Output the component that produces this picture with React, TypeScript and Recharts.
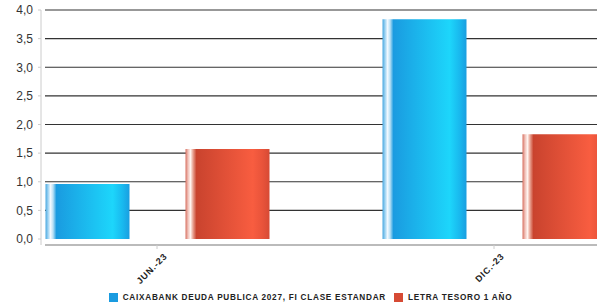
import { BarChart, Bar, XAxis, YAxis, CartesianGrid, Legend } from "recharts";

const periods = ["JUN.-23", "DIC.-23"];
const fundValues = [0.96, 3.84];
const letraValues = [1.57, 1.83];
const seriesNames = ["CAIXABANK DEUDA PUBLICA 2027, FI CLASE ESTANDAR", "LETRA TESORO 1 AÑO"];
const yTicks = [0, 0.5, 1, 1.5, 2, 2.5, 3, 3.5, 4];

const data = periods.map((period, i) => ({
  period,
  fund: fundValues[i],
  letra: letraValues[i],
}));

const font = "'Liberation Sans', Arial, sans-serif";

function XTick({ x, y, payload }: any) {
  return (
    <g transform={`translate(${x + 8},${y + 3})`}>
      <text
        transform="rotate(-45)"
        textAnchor="end"
        dy={4}
        fontSize={9}
        letterSpacing={0.8}
        fontWeight="bold"
        fill="#222"
        fontFamily={font}
      >
        {payload.value}
      </text>
    </g>
  );
}

function GridLine(props: any) {
  const { x1, x2, y1, y2 } = props;
  if (y1 > 236) return <g />;
  return <line x1={x1} x2={x2} y1={y1} y2={y2} stroke="#333" strokeWidth={1.2} />;
}

function LegendContent() {
  const colors = ["#1a9be0", "#d64a34"];
  return (
    <div
      style={{
        display: "flex",
        justifyContent: "center",
        gap: 8,
        fontFamily: font,
        fontSize: 8.2,
        letterSpacing: 0.75,
        fontWeight: "bold",
        color: "#222",
        paddingLeft: 24,
        paddingTop: 8,
      }}
    >
      {seriesNames.map((name, i) => (
        <div key={name} style={{ display: "flex", alignItems: "center", gap: 5 }}>
          <span style={{ width: 9, height: 9, background: colors[i], display: "inline-block" }} />
          <span>{name}</span>
        </div>
      ))}
    </div>
  );
}

export default function App() {
  return (
    <div
      style={{
        position: "absolute",
        left: 0,
        top: 0,
        width: 597,
        height: 305,
        overflow: "hidden",
        background: "#fff",
      }}
    >
      <BarChart
        width={597}
        height={305}
        data={data}
        margin={{ top: 10, right: 0, left: 0, bottom: 0 }}
        barSize={84}
        barGap={56}
      >
        <defs>
          <linearGradient id="gBlue" x1="0" y1="0" x2="1" y2="0">
            <stop offset="0" stopColor="#4aa8e0" />
            <stop offset="0.03" stopColor="#9ad2f2" />
            <stop offset="0.06" stopColor="#f2f9ff" />
            <stop offset="0.09" stopColor="#b8e0f5" />
            <stop offset="0.13" stopColor="#1a9be0" />
            <stop offset="0.8" stopColor="#1dd6fb" />
            <stop offset="0.92" stopColor="#19b8ee" />
            <stop offset="1" stopColor="#1a9ee0" />
          </linearGradient>
          <linearGradient id="gRed" x1="0" y1="0" x2="1" y2="0">
            <stop offset="0" stopColor="#d77060" />
            <stop offset="0.03" stopColor="#f0c0b8" />
            <stop offset="0.06" stopColor="#fff4f0" />
            <stop offset="0.09" stopColor="#e8a090" />
            <stop offset="0.13" stopColor="#c9432e" />
            <stop offset="0.8" stopColor="#f85d40" />
            <stop offset="0.92" stopColor="#e8533a" />
            <stop offset="1" stopColor="#d64a34" />
          </linearGradient>
        </defs>
        <CartesianGrid vertical={false} horizontal={GridLine} yAxisId="val" />
        <YAxis yAxisId="pad" width={4} tick={false} tickLine={false} axisLine={false} />
        <YAxis
          yAxisId="val"
          width={41}
          domain={[0, 4]}
          ticks={yTicks}
          padding={{ top: 0, bottom: 6 }}
          tickFormatter={(v: number) => v.toFixed(1).replace(".", ",")}
          tick={{ fontSize: 12, fill: "#333", fontFamily: font }}
          tickSize={3}
          tickMargin={5}
          tickLine={{ stroke: "#ccc" }}
          axisLine={{ stroke: "#ccc" }}
        />
        <XAxis
          dataKey="period"
          height={40}
          padding={{ left: -56.5, right: -65.5 }}
          tick={<XTick />}
          tickSize={4}
          tickLine={{ stroke: "#ccc" }}
          axisLine={{ stroke: "#bbb", strokeWidth: 2 }}
          interval={0}
        />
        <Legend verticalAlign="bottom" height={20} content={<LegendContent />} />
        <Bar dataKey="fund" yAxisId="val" name={seriesNames[0]} fill="url(#gBlue)" isAnimationActive={false} />
        <Bar dataKey="letra" yAxisId="val" name={seriesNames[1]} fill="url(#gRed)" isAnimationActive={false} />
      </BarChart>
    </div>
  );
}
